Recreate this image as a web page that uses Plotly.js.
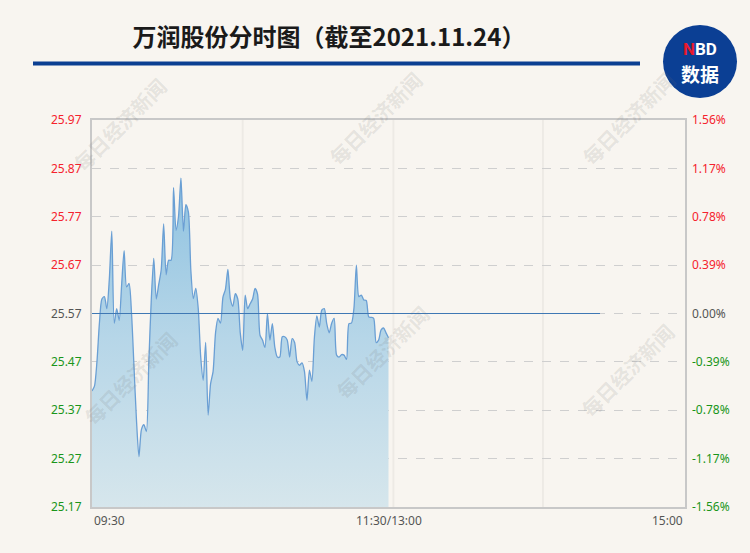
<!DOCTYPE html>
<html>
<head>
<meta charset="utf-8">
<script src="https://cdn.plot.ly/plotly-3.0.1.min.js"></script>
<style>
html,body{margin:0;padding:0;background:#f8f5f0;}
#chart{width:750px;height:553px;}
</style>
</head>
<body>
<div id="chart"></div>
<script>
// ---- data ----
const minutes = [];
for (let i = 0; i <= 120; i++) minutes.push(i);

const prices = [
  25.41, 25.42, 25.47, 25.55, 25.60, 25.605, 25.58, 25.64, 25.74, 25.55,
  25.58, 25.556, 25.63, 25.70, 25.625, 25.632, 25.57, 25.46, 25.35, 25.274,
  25.33, 25.34, 25.326, 25.47, 25.60, 25.684, 25.60, 25.63, 25.66, 25.755,
  25.65, 25.68, 25.68, 25.83, 25.742, 25.77, 25.85, 25.74, 25.795, 25.78,
  25.66, 25.601, 25.622, 25.58, 25.48, 25.432, 25.51, 25.36, 25.425, 25.45,
  25.53, 25.56, 25.55, 25.604, 25.62, 25.661, 25.60, 25.585, 25.611, 25.60,
  25.53, 25.494, 25.608, 25.58, 25.59, 25.60, 25.622, 25.61, 25.525, 25.515,
  25.50, 25.57, 25.515, 25.549, 25.50, 25.48, 25.48, 25.522, 25.522, 25.515,
  25.48, 25.518, 25.51, 25.47, 25.463, 25.468, 25.45, 25.39, 25.453, 25.43,
  25.52, 25.565, 25.542, 25.577, 25.58, 25.549, 25.53, 25.55, 25.56, 25.484,
  25.48, 25.485, 25.484, 25.475, 25.549, 25.55, 25.58, 25.67, 25.605, 25.608,
  25.598, 25.597, 25.563, 25.562, 25.56, 25.51, 25.515, 25.536, 25.54, 25.53,
  25.52
];

const prevClose = 25.57;
const priceTicks = [25.17, 25.27, 25.37, 25.47, 25.57, 25.67, 25.77, 25.87, 25.97];
const priceTickText = ["25.17", "25.27", "25.37", "25.47", "25.57", "25.67", "25.77", "25.87", "25.97"];
const pctTickText = ["-1.56%", "-1.17%", "-0.78%", "-0.39%", "0.00%", "0.39%", "0.78%", "1.17%", "1.56%"];
const timeLabels = ["09:30", "11:30/13:00", "15:00"];
const timeLabelPos = [0, 120, 240];
const refLineEnd = 205.6;

// ---- styling helpers ----
const RED = "#f5222d", GREEN = "#1a951a", GREY = "#555555";
function colorFor(v) {
  if (Math.abs(v - prevClose) < 1e-9) return GREY;
  return v > prevClose ? RED : GREEN;
}
const leftText = priceTicks.map((v, i) => `<span style="color:${colorFor(v)}">${priceTickText[i]}</span>`);
const rightText = priceTicks.map((v, i) => `<span style="color:${colorFor(v)}">${pctTickText[i]}</span>`);

const traces = [
  {
    x: [0, 120], y: [25.17, 25.17], mode: "lines",
    line: {width: 0, color: "rgba(0,0,0,0)"}, hoverinfo: "skip", showlegend: false
  },
  {
    x: minutes, y: prices, mode: "lines",
    line: {color: "#6a9fd4", width: 1.3, shape: "spline", smoothing: 0.7},
    fill: "tonexty",
    fillgradient: {
      type: "vertical",
      start: 25.17, stop: 25.87,
      colorscale: [[0, "#d6e6ec"], [0.5, "#b6d6e8"], [1, "#8cc1e0"]]
    },
    showlegend: false
  },
  {
    x: [0, refLineEnd], y: [prevClose, prevClose], mode: "lines",
    line: {color: "#3f78b4", width: 1},
    yaxis: "y2", showlegend: false, hoverinfo: "skip"
  }
];

const wm = "每日经济新闻";
const wmPos = [[120, 125], [375, 118], [628, 118], [130, 378], [382, 352], [627, 370]];
const plotL = 92, plotR = 685, plotT = 120, plotB = 507;
function px2paperX(px) { return (px - plotL) / (plotR - plotL); }
function px2paperY(py) { return (plotB - py) / (plotB - plotT); }

const annotations = [];
wmPos.forEach(p => annotations.push({
  text: wm, xref: "paper", yref: "paper", x: px2paperX(p[0]), y: px2paperY(p[1]),
  xanchor: "center", yanchor: "middle",
  showarrow: false, textangle: -45,
  font: {family: "Noto Sans CJK SC", size: 20, color: "rgba(110,110,110,0.15)", weight: 700}
}));
timeLabels.forEach((t, i) => annotations.push({
  text: t, xref: "x", yref: "paper", x: timeLabelPos[i], y: 0, yanchor: "top", yshift: -3,
  xanchor: i === 0 ? "left" : (i === 2 ? "right" : "center"),
  showarrow: false, font: {family: "Noto Sans", size: 12, color: "#555555"}
}));
// logo text
annotations.push({
  text: '<b><span style="color:#e8192c">N</span>BD</b>', xref: "paper", yref: "paper",
  x: px2paperX(700), y: px2paperY(49.5), xanchor: "center", yanchor: "middle", showarrow: false,
  borderpad: 0, font: {family: "Roboto", size: 17, color: "#ffffff"}
});
annotations.push({
  text: "<b>数据</b>", xref: "paper", yref: "paper",
  x: px2paperX(700), y: px2paperY(74), xanchor: "center", yanchor: "middle", showarrow: false,
  borderpad: 0, font: {family: "Noto Sans CJK SC", size: 19, color: "#ffffff"}
});

const shapes = [
  {type: "line", xref: "paper", yref: "paper", x0: px2paperX(33), x1: px2paperX(640),
   y0: px2paperY(63.5), y1: px2paperY(63.5), line: {color: "#0b3f92", width: 4}},
  {type: "circle", xref: "paper", yref: "paper", x0: px2paperX(663), x1: px2paperX(737),
   y0: px2paperY(98), y1: px2paperY(25), fillcolor: "#0b3f94", line: {width: 0}},
];
[61, 122, 182.5].forEach(m => shapes.push({
  type: "line", xref: "x", yref: "paper", x0: m, x1: m, y0: 0, y1: 1,
  line: {color: "rgba(0,0,0,0.045)", width: 2}, layer: "below"
}));

const layout = {
  width: 750, height: 553,
  paper_bgcolor: "#f8f5f0", plot_bgcolor: "#f8f5f0",
  margin: {l: plotL, r: 750 - plotR, t: plotT, b: 553 - plotB, pad: 0},
  title: {
    text: "万润股份分时图（截至2021.11.24）",
    x: 329 / 750, xanchor: "center", y: 1 - 38 / 553, yanchor: "middle",
    font: {family: "Noto Sans CJK SC", size: 24, color: "#1a1a1a", weight: 700}
  },
  showlegend: false,
  xaxis: {
    range: [0, 240], showgrid: false, zeroline: false, showticklabels: false, ticks: "",
    showline: true, linecolor: "#c8c8c8", linewidth: 2, mirror: true, fixedrange: true
  },
  yaxis: {
    range: [25.17, 25.97], tickvals: priceTicks, ticktext: leftText,
    showgrid: true, gridcolor: "#cfcfcf", griddash: "dash", gridwidth: 1,
    zeroline: false, ticks: "", ticklabelstandoff: 6,
    tickfont: {family: "Noto Sans", size: 12},
    showline: true, linecolor: "#c8c8c8", linewidth: 2, mirror: true, fixedrange: true
  },
  yaxis2: {
    range: [25.17, 25.97], overlaying: "y", side: "right",
    tickvals: priceTicks, ticktext: rightText, showgrid: false, zeroline: false,
    ticks: "", ticklabelstandoff: 6, tickfont: {family: "Noto Sans", size: 12},
    showline: false, fixedrange: true
  },
  annotations: annotations,
  shapes: shapes
};

Plotly.newPlot("chart", traces, layout, {displayModeBar: false, staticPlot: true});
</script>
</body>
</html>
